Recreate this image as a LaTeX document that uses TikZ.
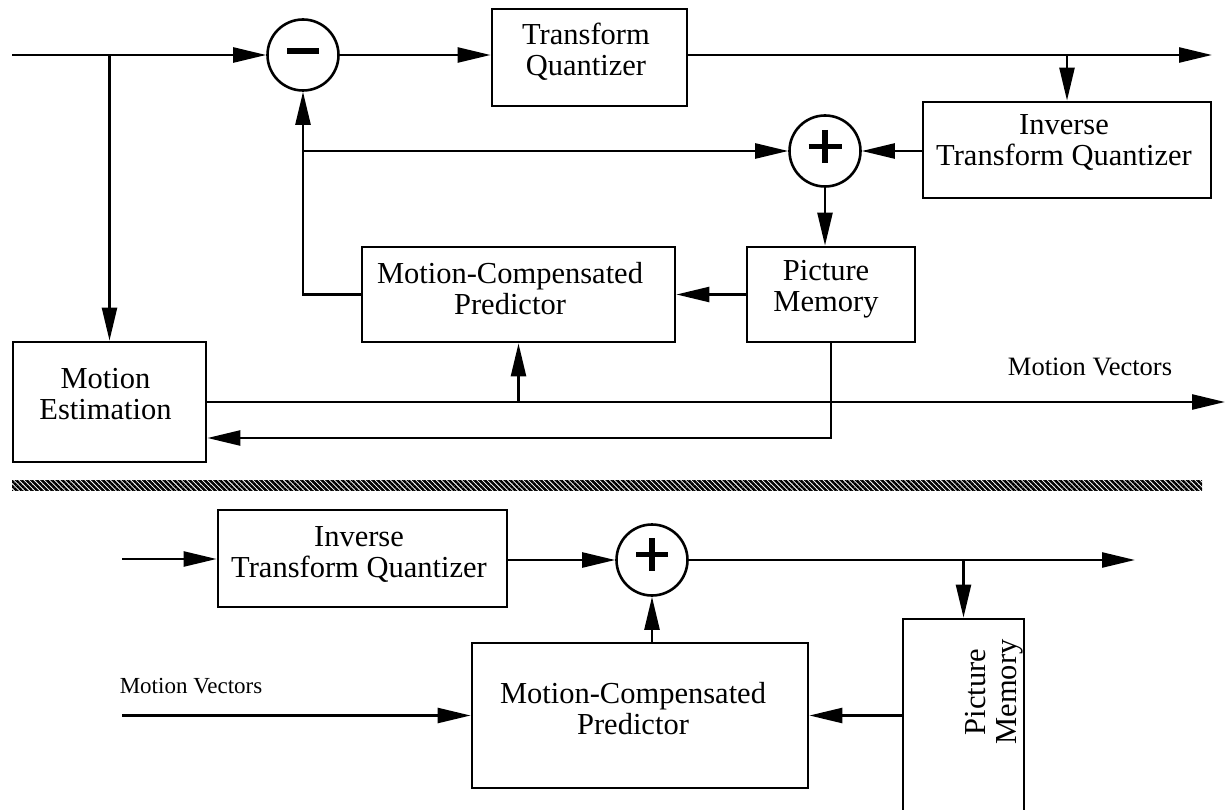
\documentclass[tikz,border=0pt]{standalone}
\usepackage{fontspec}
\setmainfont{Liberation Serif}
\usetikzlibrary{arrows.meta,patterns.meta,calc}

\begin{document}
\begin{tikzpicture}[x=1pt,y=-1pt,
  every node/.style={font=\fontsize{30.5}{31}\selectfont},
  blk/.style={draw, line width=2.8pt, inner sep=0pt},
  txt/.style={align=center, inner sep=0pt},
  lbl/.style={inner sep=0pt, font=\fontsize{26.5}{28}\selectfont},
  sum/.style={circle, draw, line width=2.6pt, minimum size=71pt, inner sep=0pt},
  sig/.style={line width=2.5pt},
  flow/.style={sig, -{Triangle[length=33pt,width=15pt]}},
  sign/.style={line width=5.5pt}]
\useasboundingbox (0,0) rectangle (1226,810);

% ---------------- encoder ----------------
\node[sum] (minus) at (303,55) {};
\node[sum] (plus) at (825,151) {};
\node[blk, minimum width=195pt, minimum height=97pt] (tq) at (589.5,57.5) {};
\node[blk, minimum width=288pt, minimum height=96pt] (itq) at (1067,150) {};
\node[blk, minimum width=168pt, minimum height=95pt] (pm) at (831,294.5) {};
\node[blk, minimum width=313pt, minimum height=95pt] (mcp) at (518.5,294.5) {};
\node[blk, minimum width=193pt, minimum height=120pt] (me) at (109.5,402) {};

\node[txt] (tqt) at (586,51.5) {Transform\\Quantizer};
\node[txt] (itqt) at (1064,142.5) {Inverse\\Transform Quantizer};
\node[txt] (pmt) at (826,289.5) {Picture\\Memory};
\node[txt] (mcpt) at (510,289) {Motion-Compensated\\Predictor};
\node[txt] (met) at (105.5,394.5) {Motion\\Estimation};
\node[lbl] (mvt) at (1090,367) {Motion Vectors};

\draw[sign] ($(minus)+(-16,-4)$) -- ++(32,0);
\draw[sign] ($(plus)+(-16.5,-4.5)$) -- ++(33,0);
\draw[sign] ($(plus)+(0,-21)$) -- ++(0,33);

\coordinate (in) at (12,55);
\coordinate (topout) at (1212,55);
\coordinate (mvout) at (1225,402);
\coordinate (j1) at (me.north |- in);
\path (me.east) ++(0,36) coordinate (meback);

\draw[flow] (in) -- (minus);
\draw[flow] (j1) -- (me.north);
\draw[flow] (minus) -- (minus -| tq.west);
\draw[flow] (tq.east |- minus) -- (topout);
\draw[flow] (itq.north |- topout) -- (itq.north);
\draw[flow] (itq.west |- plus) -- (plus);
\draw[flow] (minus |- plus) -- (plus);
\draw[flow] (mcp.west) -| (minus.south);
\draw[flow] (plus) -- (plus |- pm.north);
\draw[flow] (pm.west) -- (mcp.east);
\draw[flow] (me.east) -- (mvout);
\draw[flow] (mcp.south |- me.east) -- (mcp.south);
\draw[flow] (pm.south) |- (meback);

% ---------------- separator ----------------
\fill[pattern={Lines[angle=-45,distance=3.6pt,line width=2.5pt]}] (12,480) rectangle (1202,490);

% ---------------- decoder ----------------
\node[sum] (bplus) at (652,560) {};
\node[blk, minimum width=289pt, minimum height=97pt] (bitq) at (362.5,558.5) {};
\node[blk, minimum width=336pt, minimum height=145pt] (bmcp) at (640,715.5) {};
\node[blk, minimum width=121pt, minimum height=192pt] (bpm) at (963.5,715) {};

\node[txt] (bitqt) at (359,554.5) {Inverse\\Transform Quantizer};
\node[txt] (bmcpt) at (633,709) {Motion-Compensated\\Predictor};
\node[txt, rotate=90] (bpmt) at (994.5,692) {Picture\\Memory};
\node[lbl, font=\fontsize{23}{25}\selectfont] (bmvt) at (191,686) {Motion Vectors};

\draw[sign] ($(bplus)+(-16,-5.5)$) -- ++(32,0);
\draw[sign] ($(bplus)+(0,-22)$) -- ++(0,33);

\coordinate (bin) at (122,559);
\coordinate (bout) at (1135,560);
\coordinate (bmv) at (122,715.5);

\draw[flow] (bin) -- (bin -| bitq.west);
\draw[flow] (bitq.east |- bplus) -- (bplus);
\draw[flow] (bplus) -- (bout);
\draw[flow] (bpm.north |- bout) -- (bpm.north);
\draw[flow] (bplus |- bmcp.north) -- (bplus);
\draw[flow] (bmv) -- (bmcp.west);
\draw[flow] (bpm.west |- bmcp) -- (bmcp.east);
\end{tikzpicture}
\end{document}
